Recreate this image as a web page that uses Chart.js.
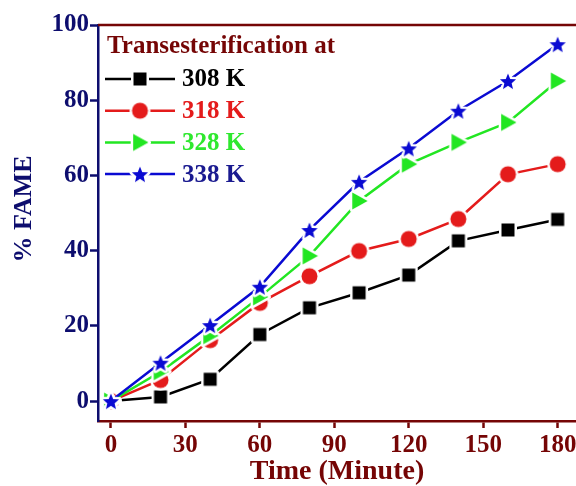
<!DOCTYPE html>
<html>
<head>
<meta charset="utf-8">
<script src="https://cdn.jsdelivr.net/npm/chart.js@4/dist/chart.umd.min.js"></script>
<style>
  html, body { margin: 0; padding: 0; background: #fff; }
  canvas { display: block; }
</style>
</head>
<body>
<canvas id="fameChart" width="576" height="486"></canvas>
<script>
// --- data ---
const timeMin = [0, 20, 40, 60, 80, 100, 120, 140, 160, 180];
const fame308 = [0, 1.1, 5.8, 17.7, 24.8, 28.8, 33.5, 42.6, 45.5, 48.3];
const fame318 = [0, 5.6, 16.2, 26.1, 33.2, 39.9, 43.1, 48.4, 60.3, 63.0];
const fame328 = [0, 7.8, 17.4, 27.7, 38.6, 53.2, 63.0, 68.8, 74.1, 85.1];
const fame338 = [0, 10.2, 20.2, 30.4, 45.5, 58.3, 67.2, 77.2, 85.1, 94.9];
const seriesLabels = ["308 K", "318 K", "328 K", "338 K"];
const xTicks = [0, 30, 60, 90, 120, 150, 180];
const yTicks = [0, 20, 40, 60, 80, 100];

const NAVY = "#0d0d6e", MAROON = "#750505";
const FONT = "'Liberation Serif', 'Times New Roman', serif";

// --- markers with a white halo (the gap where the line meets the symbol) ---
function makeMarker(shape, color, size, halo) {
    const d = Math.ceil(size + 2 * halo + 2);
    const c = document.createElement("canvas");
    c.width = d; c.height = d;
    const g = c.getContext("2d");
    const cx = d / 2, cy = d / 2, r = size / 2;
    g.beginPath();
    if (shape === "square") {
        g.rect(cx - r, cy - r, size, size);
    } else if (shape === "circle") {
        g.arc(cx, cy, r, 0, Math.PI * 2);
    } else if (shape === "tri") {
        g.moveTo(cx + r, cy);
        g.lineTo(cx - r * 0.8, cy - r);
        g.lineTo(cx - r * 0.8, cy + r);
        g.closePath();
    } else if (shape === "star") {
        for (let i = 0; i < 10; i++) {
            const a = -Math.PI / 2 + i * Math.PI / 5;
            const rr = i % 2 === 0 ? r : r * 0.45;
            const px = cx + rr * Math.cos(a), py = cy + 1 + rr * Math.sin(a);
            if (i === 0) g.moveTo(px, py); else g.lineTo(px, py);
        }
        g.closePath();
    }
    g.lineJoin = "round";
    g.strokeStyle = "#fff";
    g.lineWidth = halo * 2;
    g.stroke();
    g.fillStyle = color;
    g.fill();
    return c;
}

const lineColors = ["#000000", "#e41b1b", "#22e622", "#0a0ad2"];
const textColors = ["#000000", "#e41b1b", "#2ee82e", "#1a1a90"];
const markers = [
    makeMarker("square", lineColors[0], 13, 2.5),
    makeMarker("circle", lineColors[1], 16, 2.5),
    makeMarker("tri", lineColors[2], 17, 2.5),
    makeMarker("star", lineColors[3], 17, 2.5)
];

function series(values, i) {
    return {
        label: seriesLabels[i],
        data: values.map((v, k) => ({ x: timeMin[k], y: v })),
        borderColor: lineColors[i],
        backgroundColor: lineColors[i],
        borderWidth: 2.5,
        pointStyle: markers[i],
        pointRadius: 8,
        pointHoverRadius: 8,
        tension: 0,
        clip: false,
        order: 3 - i
    };
}

// --- frame, axis titles and legend ---
const decorations = {
    id: "decorations",
    afterDraw(chart) {
        const ctx = chart.ctx, a = chart.chartArea;
        ctx.save();
        ctx.strokeStyle = MAROON;
        ctx.lineWidth = 2.5;
        ctx.beginPath();
        ctx.moveTo(a.left, a.top);
        ctx.lineTo(a.right, a.top);
        ctx.stroke();

        ctx.fillStyle = NAVY;
        ctx.font = "bold 26px " + FONT;
        ctx.textAlign = "center";
        ctx.textBaseline = "middle";
        ctx.translate(24, 209);
        ctx.rotate(-Math.PI / 2);
        ctx.fillText("% FAME", 0, 0);
        ctx.restore();

        ctx.save();
        ctx.fillStyle = MAROON;
        ctx.font = "bold 28px " + FONT;
        ctx.textAlign = "center";
        ctx.textBaseline = "middle";
        ctx.fillText("Time (Minute)", 337, 472);

        ctx.textAlign = "left";
        ctx.font = "bold 25px " + FONT;
        ctx.fillText("Transesterification at", 107, 47);
        seriesLabels.forEach((lab, i) => {
            const y = 79 + i * 31.7;
            ctx.strokeStyle = lineColors[i];
            ctx.lineWidth = 2.5;
            ctx.beginPath();
            ctx.moveTo(105, y);
            ctx.lineTo(175, y);
            ctx.stroke();
            const m = markers[i];
            ctx.drawImage(m, 140 - m.width / 2, y - m.height / 2);
            ctx.fillStyle = textColors[i];
            ctx.fillText(lab, 182, y + 1);
        });
        ctx.restore();
    }
};

new Chart(document.getElementById("fameChart"), {
    type: "line",
    data: {
        datasets: [
            series(fame308, 0),
            series(fame318, 1),
            series(fame328, 2),
            series(fame338, 3)
        ]
    },
    options: {
        responsive: false,
        animation: false,
        layout: { autoPadding: false, padding: { top: 25, right: 0, left: 0, bottom: 0 } },
        plugins: { legend: { display: false }, tooltip: { enabled: false } },
        scales: {
            x: {
                type: "linear",
                min: -5.2,
                max: 187.4,
                afterBuildTicks: s => { s.ticks = xTicks.map(v => ({ value: v })); },
                afterFit: s => { s.height = 65; s.paddingLeft = 0; s.paddingRight = 0; },
                grid: { drawOnChartArea: false, tickLength: 7, tickColor: MAROON, tickWidth: 2.5 },
                border: { color: MAROON, width: 2.5 },
                ticks: { color: MAROON, padding: 3, maxRotation: 0, font: { family: FONT, size: 25, weight: "bold" } }
            },
            y: {
                min: -5.3,
                max: 100,
                afterBuildTicks: s => { s.ticks = yTicks.map(v => ({ value: v })); },
                afterFit: s => { s.width = 98; },
                grid: { drawOnChartArea: false, tickLength: 8, tickColor: NAVY, tickWidth: 2.5 },
                border: { color: NAVY, width: 2.5 },
                ticks: { color: NAVY, padding: 1, font: { family: FONT, size: 25, weight: "bold" } }
            }
        }
    },
    plugins: [decorations]
});
</script>
</body>
</html>
